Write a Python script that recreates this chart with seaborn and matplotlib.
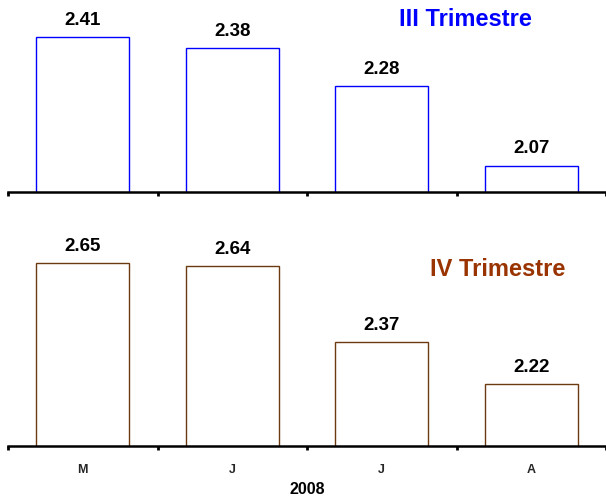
import matplotlib
matplotlib.use("Agg")
import matplotlib.pyplot as plt
import seaborn as sns
import pandas as pd

months = ["M", "J", "J", "A"]
year_label = "2008"
q3_values = [2.41, 2.38, 2.28, 2.07]
q4_values = [2.65, 2.64, 2.37, 2.22]
q3_title = "III Trimestre"
q4_title = "IV Trimestre"

sns.set_theme(style="white")
plt.rcParams["font.family"] = ["Liberation Sans", "DejaVu Sans"]

fig = plt.figure(figsize=(6.06, 5.00), dpi=100)
left = 8 / 606
width = 598 / 606
ax1 = fig.add_axes([left, 1 - 192 / 500, width, 192 / 500])
ax2 = fig.add_axes([left, 1 - 446 / 500, width, (446 - 207) / 500])

positions = [str(i) for i in range(len(months))]

def draw(ax, values, edge, ylim, show_labels):
    df = pd.DataFrame({"pos": positions, "val": values})
    sns.barplot(data=df, x="pos", y="val", order=positions, fill=False,
                color=edge, width=0.62, linewidth=1.0, ax=ax, errorbar=None)
    for p in ax.patches:
        p.set_edgecolor(edge)
        p.set_facecolor("none")
    ax.set_xlim(-0.5, len(values) - 0.5)
    ax.set_ylim(*ylim)
    for i, v in enumerate(values):
        ax.annotate(f"{v:.2f}", (i, v), xytext=(0, 6), textcoords="offset points",
                    ha="center", va="bottom", fontsize=13.5, fontweight="bold",
                    color="black", annotation_clip=False)
    for s in ["top", "right", "left"]:
        ax.spines[s].set_visible(False)
    ax.spines["bottom"].set_color("black")
    ax.spines["bottom"].set_linewidth(1.8)
    ax.set_yticks([])
    ax.set_xlabel("")
    ax.set_ylabel("")
    ax.set_xticks(range(len(values)))
    if show_labels:
        ax.set_xticklabels(months, fontsize=9, fontweight="bold")
    else:
        ax.set_xticklabels([])
    ax.tick_params(axis="x", which="major", length=0, pad=13)
    ax.set_xticks([i - 0.5 for i in range(len(values) + 1)], minor=True)
    ax.tick_params(axis="x", which="minor", bottom=True, length=3, width=2,
                   direction="out", color="black")
    ax.patch.set_alpha(0)

draw(ax1, q3_values, "#0000FF", (2.0, 2.508), False)
draw(ax2, q4_values, "#6B3A10", (2.0, 2.85), True)

fig.text(465 / 606, 1 - 19 / 500, q3_title, color="#0000FF", fontsize=17,
         fontweight="bold", ha="center", va="center")
fig.text(498 / 606, 1 - 269 / 500, q4_title, color="#993300", fontsize=17,
         fontweight="bold", ha="center", va="center")
fig.text(307 / 606, 1 - 490 / 500, year_label, color="black", fontsize=11.5,
         fontweight="bold", ha="center", va="center")

fig.savefig("out.png", dpi=100)
